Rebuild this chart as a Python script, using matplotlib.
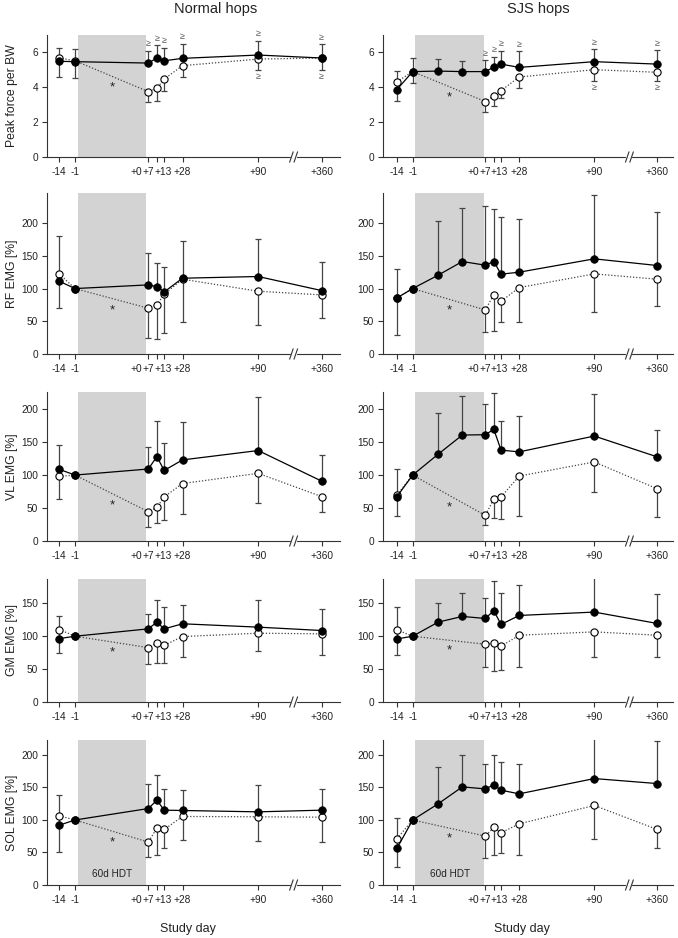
import numpy as np
import matplotlib
matplotlib.use('Agg')
import matplotlib.pyplot as plt
from matplotlib.transforms import ScaledTranslation

plt.rcParams['font.family'] = ['Liberation Sans', 'DejaVu Sans']

nan = np.nan

# ---------------- data ----------------
tick_labels = ['-14', '-1', '+0', '+7', '+13', '+28', '+90', '+360']
tick_pos = [-14, -1, 59, 66, 72, 87, 149, 201]          # broken time axis positions
sjs_pos = [-14, -1, 20, 40, 59, 66, 72, 87, 149, 201]   # SJS filled series incl. mid-HDT sessions
hdt_span = (1, 57.5)
break_pos = 178

col_titles = ['Normal hops', 'SJS hops']
row_labels = ['Peak force per BW', 'RF EMG [%]', 'VL EMG [%]', 'GM EMG [%]', 'SOL EMG [%]']

# Peak force
force_n_filled = [5.49, 5.47, 5.39, 5.68, 5.52, 5.66, 5.85, 5.68]
force_n_filled_up = [6.23, 6.17, 6.10, 6.42, 6.27, 6.51, 6.67, 6.48]
force_n_open = [5.68, 5.52, 3.75, 3.94, 4.48, 5.24, 5.62, 5.68]
force_n_open_lo = [4.57, 4.53, 3.14, 3.24, 3.81, 4.61, 4.99, 5.01]
force_s_filled = [3.87, 4.90, 4.93, 4.90, 4.90, 5.16, 5.33, 5.14, 5.47, 5.33]
force_s_filled_up = [4.95, 5.68, 5.62, 5.52, 5.56, 5.75, 6.10, 6.06, 6.17, 6.13]
force_s_open = [4.32, 4.90, 3.18, 3.52, 3.81, 4.59, 5.01, 4.86]
force_s_open_lo = [3.24, 4.23, 2.57, 2.90, 3.39, 3.96, 4.38, 4.38]

# RF EMG
rf_n_filled = [111.2, 100, 105.6, 103, 94.9, 115.8, 118.4, 96.9]
rf_n_filled_up = [180.6, nan, 154, 138.8, 132.7, 172, 176, 140.8]
rf_n_open = [122.4, 100, 69.9, 75, 91.3, 114.3, 95.9, 90.3]
rf_n_open_lo = [70.4, nan, 25, 23, 32.1, 48.5, 44.4, 55.6]
rf_s_filled = [85.7, 100, 120.4, 141.3, 135.7, 141.3, 122, 125, 145.4, 135.2]
rf_s_filled_up = [130.6, nan, 203, 223.5, 225.5, 222, 210, 207, 243, 216.8]
rf_s_open = [85.7, 100, 67.3, 90.8, 80.6, 101.5, 122.4, 114.3]
rf_s_open_lo = [29, nan, 34.2, 35.7, 49, 48.5, 63.8, 74]

# VL EMG
vl_n_filled = [108.7, 100, 109.2, 128, 107, 123, 137.2, 90.8]
vl_n_filled_up = [145.4, nan, 142.9, 182, 148, 180, 218, 130.6]
vl_n_open = [98, 100, 44.4, 51, 66.8, 87.2, 102.6, 67.3]
vl_n_open_lo = [63.8, nan, 21.9, 28, 32, 40.3, 57.1, 43.9]
vl_s_filled = [67.3, 100, 131.6, 160.7, 161.2, 169.4, 137.8, 135.2, 159.2, 127.6]
vl_s_filled_up = [108.7, nan, 193.9, 220.4, 207.7, 224.5, 182.7, 190.3, 223, 167.9]
vl_s_open = [69.9, 100, 38.8, 63.8, 66.8, 98.5, 119.9, 79.1]
vl_s_open_lo = [38.3, nan, 24.5, 34.7, 32.7, 37.2, 75, 36.2]

# GM EMG
gm_n_filled = [96.4, 100, 111.2, 121.4, 111.2, 118.9, 113.8, 108.7]
gm_n_filled_up = [130, nan, 133.7, 155.6, 144.4, 147, 154.6, 141.8]
gm_n_open = [110.2, 100, 82.7, 89.8, 86.2, 99.5, 104.6, 103.6]
gm_n_open_lo = [75, nan, 57.1, 58.7, 58.7, 67.9, 78.1, 70.9]
gm_s_filled = [95.9, 100, 121.4, 130.1, 127, 138.8, 117.9, 131.6, 136.7, 119.4]
gm_s_filled_up = [144.4, nan, 151, 165.8, 157.7, 183.7, 166.3, 177.6, 193.4, 164.3]
gm_s_open = [109.7, 100, 87.8, 89.3, 84.7, 101.5, 106.6, 101.5]
gm_s_open_lo = [71.4, nan, 53.6, 46.4, 48, 53.6, 68.9, 68.9]

# SOL EMG
sol_n_filled = [92, 100, 117.6, 130.4, 115.1, 114.6, 112.5, 115.1]
sol_n_filled_up = [138.1, nan, 156, 169.8, 148.3, 146.8, 153.5, 148.3]
sol_n_open = [106.4, 100, 66, 87.5, 85.4, 105.4, 104.9, 104.3]
sol_n_open_lo = [50.1, nan, 43, 46, 56.3, 69, 67.5, 65.5]
sol_s_filled = [56.3, 100, 124.8, 150.9, 147.8, 154, 145.8, 140.2, 163.7, 156]
sol_s_filled_up = [102.3, nan, 182.1, 199.5, 186.2, 200, 189.8, 186.2, 228.1, 221.5]
sol_s_open = [71.1, 100, 75.2, 88.5, 80.3, 94.1, 122.3, 85.4]
sol_s_open_lo = [28.1, nan, 41.4, 45.5, 49.6, 45.5, 71.1, 56.3]

# significance star heights [normal, sjs]
star_y = [[4.13, 3.56], [70, 70], [58, 55], [79.6, 82.7], [70, 75]]
# "≥" marks: indices (in tick positions) above filled / below open
ge_above = [2, 3, 4, 5, 6, 7]
ge_below = [6, 7]

ylims = [7, 246, 226, 187, 223]
yticks = [[0, 2, 4, 6], [0, 50, 100, 150, 200], [0, 50, 100, 150, 200],
          [0, 50, 100, 150], [0, 50, 100, 150, 200]]

panels = [
    [(force_n_filled, force_n_filled_up, force_n_open, force_n_open_lo),
     (force_s_filled, force_s_filled_up, force_s_open, force_s_open_lo)],
    [(rf_n_filled, rf_n_filled_up, rf_n_open, rf_n_open_lo),
     (rf_s_filled, rf_s_filled_up, rf_s_open, rf_s_open_lo)],
    [(vl_n_filled, vl_n_filled_up, vl_n_open, vl_n_open_lo),
     (vl_s_filled, vl_s_filled_up, vl_s_open, vl_s_open_lo)],
    [(gm_n_filled, gm_n_filled_up, gm_n_open, gm_n_open_lo),
     (gm_s_filled, gm_s_filled_up, gm_s_open, gm_s_open_lo)],
    [(sol_n_filled, sol_n_filled_up, sol_n_open, sol_n_open_lo),
     (sol_s_filled, sol_s_filled_up, sol_s_open, sol_s_open_lo)],
]

# ---------------- layout ----------------
W, H = 678, 938
fig = plt.figure(figsize=(W / 100, H / 100), dpi=100)
cols = [(47, 340, (-24, 216)), (383, 673, (-25.5, 214))]
rows = [(35, 157), (193, 354), (392, 541), (579, 702), (740, 885)]

spine_c = '#333333'
err_c = '#444444'
tick_fs = 7.3
label_offsets_px = {2: -12.5, 3: -9.0, 4: -1.5}

for r, (ytop, ybot) in enumerate(rows):
    for c, (xl, xr, xlim) in enumerate(cols):
        ax = fig.add_axes([xl / W, 1 - ybot / H, (xr - xl) / W, (ybot - ytop) / H])
        hpx = ybot - ytop
        filled, filled_up, opn, opn_lo = panels[r][c]
        fx = np.array(sjs_pos if c == 1 else tick_pos, float)
        ox = np.array(tick_pos, float)
        filled = np.array(filled, float); filled_up = np.array(filled_up, float)
        opn = np.array(opn, float); opn_lo = np.array(opn_lo, float)

        ax.axvspan(hdt_span[0], hdt_span[1], color='#d3d3d3', lw=0, zorder=0)

        m = np.isfinite(filled_up)
        ax.errorbar(fx[m], filled[m], yerr=[np.zeros(m.sum()), filled_up[m] - filled[m]],
                    fmt='none', ecolor=err_c, elinewidth=0.9, capsize=2.3, capthick=0.9, zorder=2)
        m2 = np.isfinite(opn_lo)
        ax.errorbar(ox[m2], opn[m2], yerr=[opn[m2] - opn_lo[m2], np.zeros(m2.sum())],
                    fmt='none', ecolor=err_c, elinewidth=0.9, capsize=2.3, capthick=0.9, zorder=2)

        ax.plot(ox, opn, linestyle=(0, (1, 1.5)), color='#444444', lw=0.9, zorder=3)
        ax.plot(ox, opn, linestyle='none', marker='o', ms=5.2, mfc='white', mec='black',
                mew=0.8, zorder=4)
        ax.plot(fx, filled, linestyle='-', color='black', lw=0.9, zorder=5)
        ax.plot(fx, filled, linestyle='none', marker='o', ms=5.4, mfc='black', mec='black',
                mew=0.6, zorder=6)

        # star
        ax.annotate('*', (29.5, star_y[r][c]), xytext=(0, -4.0), textcoords='offset points',
                    ha='center', va='baseline', fontsize=9.5, color='#222222', zorder=7)

        if r == 0:
            # ">=" marks
            fx_rec = fx[-8:]
            fu_rec = filled_up[-8:]
            for i in ge_above:
                ax.annotate('≥', (fx_rec[i], fu_rec[i]), xytext=(0, 5.0),
                            textcoords='offset points', ha='center', va='center',
                            fontsize=6.5, color='#555555', zorder=7)
            for i in ge_below:
                ax.annotate('≥', (ox[i], opn_lo[i]), xytext=(0, -4.6),
                            textcoords='offset points', ha='center', va='center',
                            fontsize=6.5, color='#555555', zorder=7)
        if r == 4:
            ax.text(29.5, 17, '60d HDT', ha='center', va='center', fontsize=7.2,
                    color='#222222', zorder=7)

        ax.set_xlim(*xlim)
        ax.set_ylim(0, ylims[r])
        ax.set_xticks(tick_pos)
        ax.set_xticklabels(tick_labels)
        ax.set_yticks(yticks[r])
        for s in ['top', 'right']:
            ax.spines[s].set_visible(False)
        for s in ['left', 'bottom']:
            ax.spines[s].set_color(spine_c)
            ax.spines[s].set_linewidth(0.8)
        ax.tick_params(axis='both', direction='out', length=3.8, width=0.8, color=spine_c,
                       labelsize=tick_fs, labelcolor='#222222', pad=2.5)
        ax.tick_params(axis='x', pad=3.5)
        for i, lab in enumerate(ax.get_xticklabels()):
            if i in label_offsets_px:
                lab.set_transform(lab.get_transform() +
                                  ScaledTranslation(label_offsets_px[i] / 100, 0, fig.dpi_scale_trans))

        # axis break marks
        dy = 5.0 / hpx
        for bx in (break_pos - 1.8, break_pos + 1.8):
            ax.plot([bx - 1.4, bx + 1.4], [-dy, dy], color=spine_c, lw=0.8,
                    transform=ax.get_xaxis_transform(), clip_on=False, zorder=10)
        ax.plot([break_pos - 1.6, break_pos + 1.6], [0, 0], color='white', lw=1.6,
                transform=ax.get_xaxis_transform(), clip_on=False, zorder=9)

        if c == 0:
            ax.set_ylabel(row_labels[r], fontsize=8.8, color='#222222')
            ax.yaxis.set_label_coords(-0.10, 0.5)
        if r == 4:
            ax.set_xlabel('Study day', fontsize=9, color='#222222')
            ax.xaxis.set_label_coords(0.48, -0.26)

fig.text(216 / W, 1 - 9 / H, col_titles[0], ha='center', va='center', fontsize=10.5, color='#222222')
fig.text(538 / W, 1 - 9 / H, col_titles[1], ha='center', va='center', fontsize=10.5, color='#222222')

fig.savefig('out.png', dpi=100, facecolor='white')
